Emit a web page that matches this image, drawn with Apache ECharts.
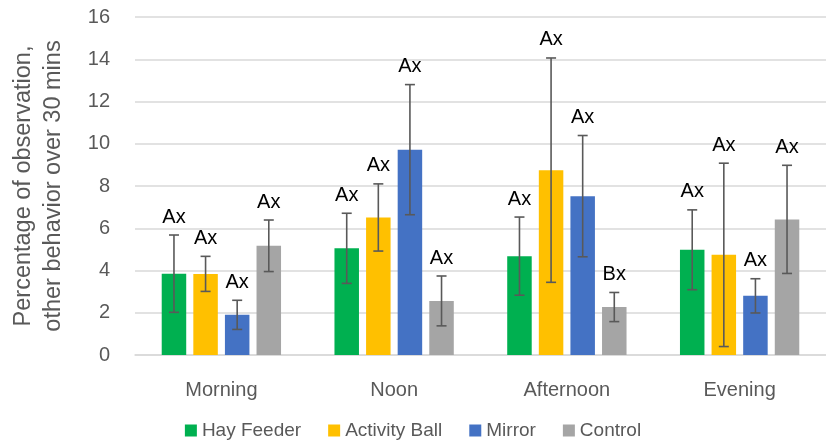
<!DOCTYPE html>
<html>
<head>
<meta charset="utf-8">
<script src="https://cdn.jsdelivr.net/npm/echarts@6/dist/echarts.min.js"></script>
<style>
  html, body { margin: 0; padding: 0; background: #fff; }
  #chart { width: 826px; height: 448px; }
</style>
</head>
<body>
<div id="chart"></div>
<script>
// Time-of-day groups and enrichment treatments
const periods = ['Morning', 'Noon', 'Afternoon', 'Evening'];
const treatments = ['Hay Feeder', 'Activity Ball', 'Mirror', 'Control'];

// Mean % of observations spent on other behaviour, per treatment
const hayFeeder    = [3.85, 5.05, 4.68, 4.98];
const activityBall = [3.84, 6.51, 8.75, 4.74];
const mirror       = [1.90, 9.72, 7.52, 2.80];
const control      = [5.17, 2.56, 2.27, 6.42];

// Error bar half-widths (±)
const hayFeederErr    = [1.83, 1.66, 1.85, 1.89];
const activityBallErr = [0.83, 1.59, 5.31, 4.34];
const mirrorErr       = [0.69, 3.08, 2.87, 0.81];
const controlErr      = [1.22, 1.18, 0.69, 2.56];

// Significance letters
const hayFeederSig    = ['Ax', 'Ax', 'Ax', 'Ax'];
const activityBallSig = ['Ax', 'Ax', 'Ax', 'Ax'];
const mirrorSig       = ['Ax', 'Ax', 'Ax', 'Ax'];
const controlSig      = ['Ax', 'Ax', 'Bx', 'Ax'];

const yTicks = { min: 0, max: 16, interval: 2 };

const values = [hayFeeder, activityBall, mirror, control];
const errors = [hayFeederErr, activityBallErr, mirrorErr, controlErr];
const letters = [hayFeederSig, activityBallSig, mirrorSig, controlSig];
const colors = ['#00B050', '#FFC000', '#4472C4', '#A5A5A5'];

const FONT = 'Liberation Sans';
const BAR_W = 24.5;
const GAP_RATIO = 0.29;
const STEP = BAR_W * (1 + GAP_RATIO);

const barSeries = treatments.map((name, s) => ({
  name,
  type: 'bar',
  data: values[s],
  barWidth: BAR_W,
  barGap: (GAP_RATIO * 100) + '%',
  itemStyle: { color: colors[s] },
  z: 2
}));

// Error bars and letters drawn in the same slot as each bar
const errSeries = treatments.map((name, s) => ({
  type: 'custom',
  name: name + ' err',
  data: values[s].map((v, i) => [i, v, errors[s][i]]),
  z: 5,
  silent: true,
  renderItem(params, api) {
    const i = api.value(0);
    const v = api.value(1);
    const e = api.value(2);
    const label = letters[s][i];
    const offset = (s - 1.5) * STEP;
    const hi = api.coord([i, v + e]);
    const lo = api.coord([i, v - e]);
    const x = hi[0] + offset;
    const cap = 5;
    const style = { stroke: '#595959', lineWidth: 1.6 };
    return {
      type: 'group',
      children: [
        { type: 'line', shape: { x1: x, y1: hi[1], x2: x, y2: lo[1] }, style },
        { type: 'line', shape: { x1: x - cap, y1: hi[1], x2: x + cap, y2: hi[1] }, style },
        { type: 'line', shape: { x1: x - cap, y1: lo[1], x2: x + cap, y2: lo[1] }, style },
        {
          type: 'text',
          style: {
            text: label, x: x, y: hi[1] - 8,
            align: 'center', verticalAlign: 'bottom',
            fill: '#000', font: '20px "' + FONT + '"'
          }
        }
      ]
    };
  }
}));

const chart = echarts.init(document.getElementById('chart'));
chart.setOption({
  animation: false,
  textStyle: { fontFamily: FONT },
  grid: { left: 135, right: 0, top: 17, bottom: 93, outerBoundsMode: 'none', containLabel: false },
  legend: {
    data: treatments,
    bottom: 3,
    left: 'center',
    itemWidth: 12,
    itemHeight: 12,
    itemGap: 27,
    icon: 'rect',
    textStyle: { fontSize: 19, color: '#595959', fontFamily: FONT }
  },
  xAxis: {
    type: 'category',
    data: periods,
    axisLine: { lineStyle: { color: '#D9D9D9', width: 1.5 } },
    axisTick: { show: false },
    axisLabel: { fontSize: 20, color: '#595959', margin: 25 }
  },
  yAxis: {
    type: 'value',
    min: yTicks.min, max: yTicks.max, interval: yTicks.interval,
    name: 'Percentage of observation,\nother behavior over 30 mins',
    nameLocation: 'middle',
    nameGap: 66,
    nameTextStyle: { fontSize: 23.5, color: '#595959', lineHeight: 30 },
    axisLine: { show: false },
    axisTick: { show: false },
    axisLabel: { fontSize: 20, color: '#595959', margin: 25 },
    splitLine: { lineStyle: { color: '#D9D9D9', width: 1.5 } }
  },
  series: [...barSeries, ...errSeries]
});
</script>
</body>
</html>
